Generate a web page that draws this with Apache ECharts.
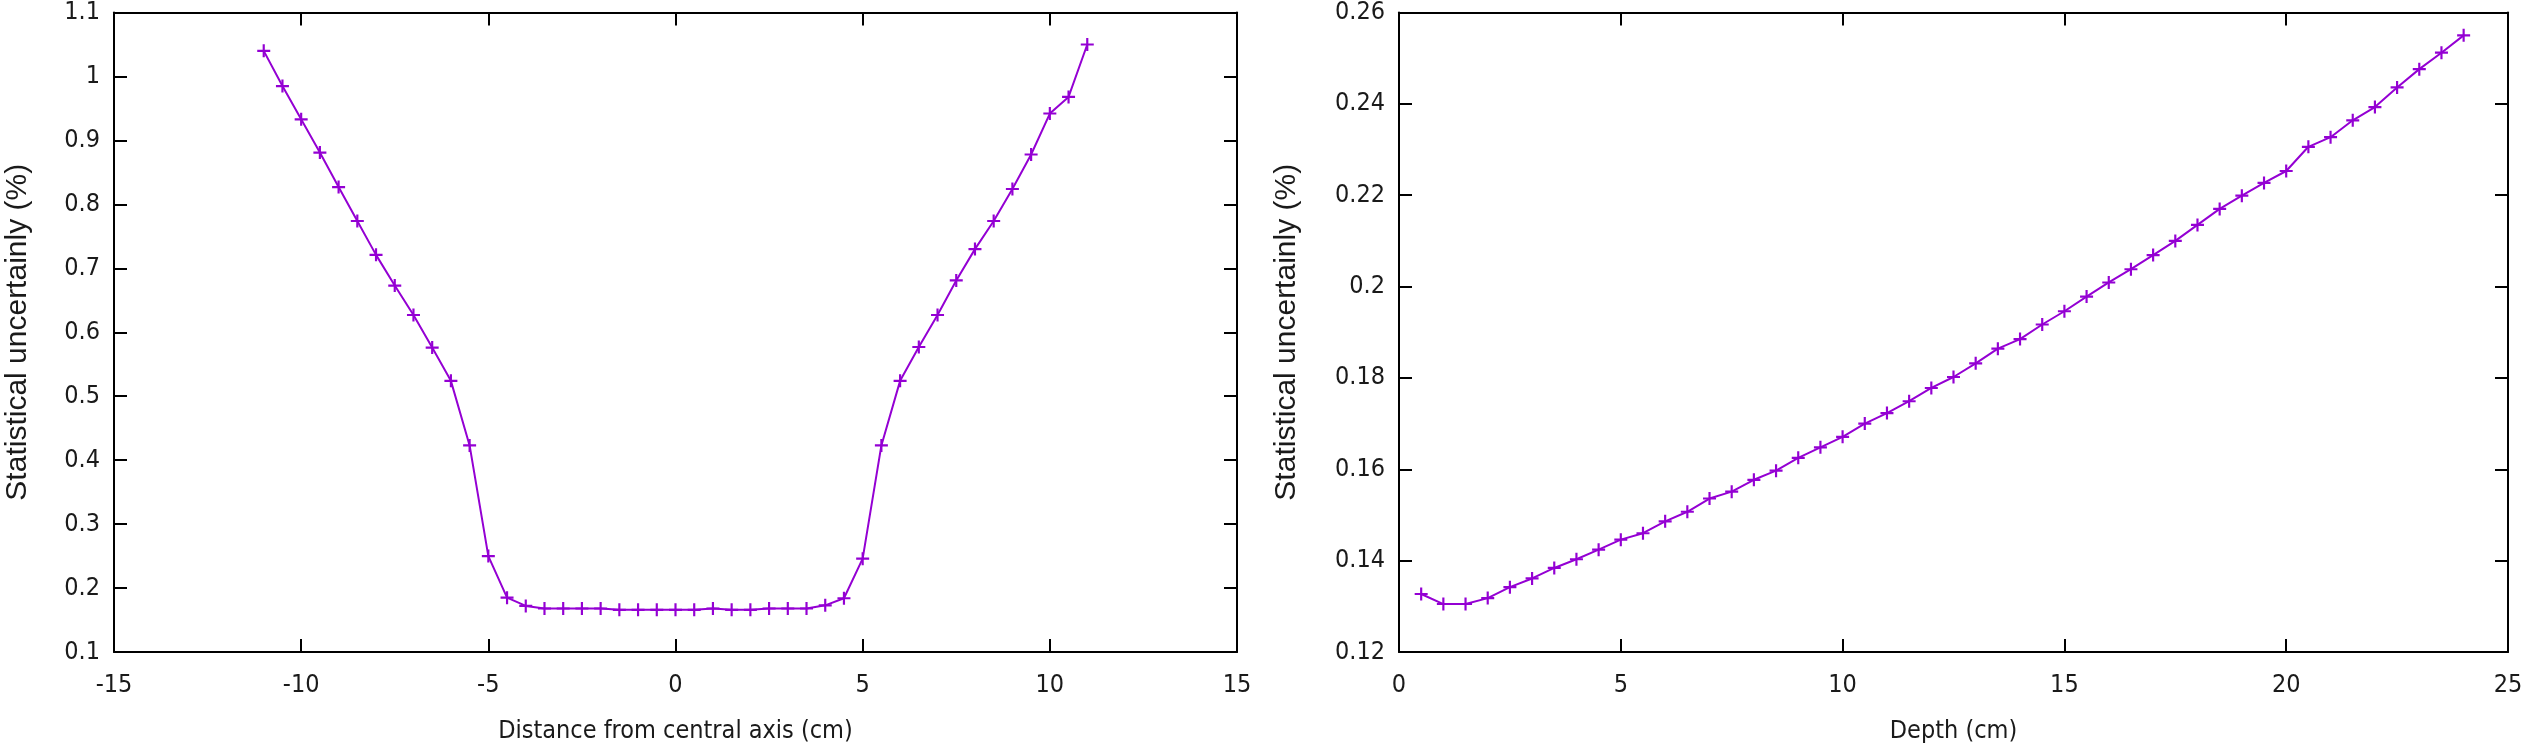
<!DOCTYPE html>
<html>
<head>
<meta charset="utf-8">
<script src="https://cdn.jsdelivr.net/npm/echarts@6/dist/echarts.min.js"></script>
<style>
html,body{margin:0;padding:0;background:#fff;}
#c{width:2527px;height:749px;}
</style>
</head>
<body>
<div id="c"></div>
<script>
// Left panel: lateral profile
const profileX = [-11,-10.5,-10,-9.5,-9,-8.5,-8,-7.5,-7,-6.5,-6,-5.5,-5,-4.5,-4,-3.5,-3,-2.5,-2,-1.5,-1,-0.5,0,0.5,1,1.5,2,2.5,3,3.5,4,4.5,5,5.5,6,6.5,7,7.5,8,8.5,9,9.5,10,10.5,11];
const profileY = [1.040,0.985,0.933,0.881,0.827,0.774,0.721,0.673,0.627,0.576,0.524,0.423,0.250,0.185,0.172,0.168,0.168,0.168,0.168,0.166,0.166,0.166,0.166,0.166,0.168,0.166,0.166,0.168,0.168,0.168,0.173,0.184,0.246,0.423,0.524,0.577,0.627,0.681,0.730,0.774,0.824,0.878,0.942,0.968,1.050];
// Right panel: depth curve
const depthX = [0.5,1,1.5,2,2.5,3,3.5,4,4.5,5,5.5,6,6.5,7,7.5,8,8.5,9,9.5,10,10.5,11,11.5,12,12.5,13,13.5,14,14.5,15,15.5,16,16.5,17,17.5,18,18.5,19,19.5,20,20.5,21,21.5,22,22.5,23,23.5,24];
const depthY = [0.1327,0.1305,0.1305,0.1318,0.1342,0.1361,0.1384,0.1403,0.1424,0.1446,0.1460,0.1486,0.1507,0.1536,0.1551,0.1577,0.1597,0.1625,0.1648,0.1671,0.1700,0.1723,0.1749,0.1778,0.1802,0.1832,0.1864,0.1885,0.1917,0.1946,0.1978,0.2009,0.2038,0.2069,0.2100,0.2135,0.2170,0.2199,0.2227,0.2253,0.2306,0.2327,0.2364,0.2393,0.2436,0.2476,0.2512,0.2550];

const leftXTitle = 'Distance from central axis (cm)';
const rightXTitle = 'Depth (cm)';
const yTitle = 'Statistical uncertainly (%)';

const FONT = "'DejaVu Sans Condensed', 'DejaVu Sans'";
const TXT = '#1a1a1a';
const PURPLE = '#9400d3';
const PLUS = 'path://M5,0H7V5H12V7H7V12H5V7H0V5H5Z';

function xAx(grid, min, max, pos, name) {
  const main = pos === 'bottom';
  return {
    type: 'value', gridIndex: grid, min: min, max: max, interval: 5, position: pos,
    axisLine: {show: true, onZero: false, lineStyle: {color: '#000', width: 2}},
    axisTick: {show: true, inside: true, length: 13, lineStyle: {color: '#000', width: 2}},
    axisLabel: {show: main, margin: 21, fontSize: 25, fontFamily: FONT, color: TXT},
    splitLine: {show: false},
    name: main ? name : '', nameLocation: 'middle', nameGap: 67,
    nameTextStyle: {fontSize: 25, fontFamily: FONT, color: TXT}
  };
}
function yAx(grid, min, max, interval, pos, gap) {
  const main = pos === 'left';
  return {
    type: 'value', gridIndex: grid, min: min, max: max, interval: interval, position: pos,
    axisLine: {show: true, onZero: false, lineStyle: {color: '#000', width: 2}},
    axisTick: {show: true, inside: true, length: 13, lineStyle: {color: '#000', width: 2}},
    axisLabel: {show: main, margin: 14, fontSize: 25, fontFamily: FONT, color: TXT},
    splitLine: {show: false},
    name: main ? yTitle : '', nameLocation: 'middle', nameGap: gap, nameRotate: 90,
    nameTextStyle: {fontSize: 30, fontFamily: "'Liberation Sans', Arial", color: TXT}
  };
}
function ser(xs, ys, xi, yi) {
  return {
    type: 'line', xAxisIndex: xi, yAxisIndex: yi,
    data: xs.map((x, i) => [x, ys[i]]),
    symbol: PLUS, symbolSize: 13,
    lineStyle: {color: PURPLE, width: 2},
    itemStyle: {color: PURPLE},
    emphasis: {disabled: true},
    animation: false
  };
}

const chart = echarts.init(document.getElementById('c'), null, {renderer: 'canvas'});
chart.setOption({
  backgroundColor: '#fff',
  animation: false,
  grid: [
    {left: 114, right: 2527 - 1237, top: 9, bottom: 749 - 653},
    {left: 1399, right: 2527 - 2508, top: 9, bottom: 749 - 653}
  ],
  xAxis: [
    xAx(0, -15, 15, 'bottom', leftXTitle),
    xAx(0, -15, 15, 'top', ''),
    xAx(1, 0, 25, 'bottom', rightXTitle),
    xAx(1, 0, 25, 'top', '')
  ],
  yAxis: [
    yAx(0, 0.1, 1.1, 0.1, 'left', 81),
    yAx(0, 0.1, 1.1, 0.1, 'right', 0),
    yAx(1, 0.12, 0.26, 0.02, 'left', 97),
    yAx(1, 0.12, 0.26, 0.02, 'right', 0)
  ],
  series: [
    ser(profileX, profileY, 0, 0),
    ser(depthX, depthY, 2, 2)
  ]
});
</script>
</body>
</html>
